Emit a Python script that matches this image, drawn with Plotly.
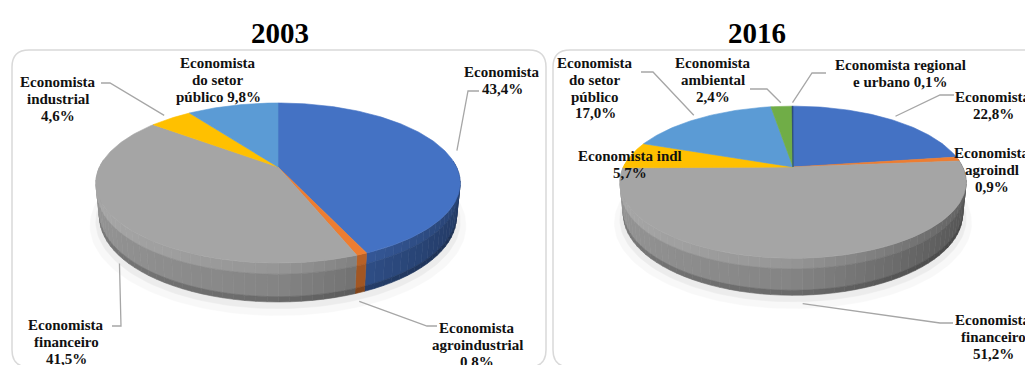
import numpy as np
import plotly.graph_objects as go

# ---------------- data ----------------
years = ["2003", "2016"]

cats_2003 = ["Economista", "Economista agroindustrial", "Economista financeiro",
             "Economista industrial", "Economista do setor público"]
vals_2003 = [43.4, 0.8, 41.5, 4.6, 9.8]

cats_2016 = ["Economista", "Economista agroindl", "Economista financeiro",
             "Economista indl", "Economista do setor público",
             "Economista ambiental", "Economista regional e urbano"]
vals_2016 = [22.8, 0.9, 51.2, 5.7, 17.0, 2.4, 0.1]

# label lines per slice; "{v}" is replaced by the slice value
lines_2003 = [["Economista", "{v}"],
              ["Economista", "agroindustrial", "{v}"],
              ["Economista", "financeiro", "{v}"],
              ["Economista", "industrial", "{v}"],
              ["Economista", "do setor", "público {v}"]]
lines_2016 = [["Economista", "{v}"],
              ["Economista", "agroindl", "{v}"],
              ["Economista", "financeiro", "{v}"],
              ["Economista indl", "{v}"],
              ["Economista", "do setor", "público", "{v}"],
              ["Economista", "ambiental", "{v}"],
              ["Economista regional", "e urbano {v}"]]

# ---------------- style / layout ----------------
W, H = 1025, 365
SLICE_COLORS = ["#4472C4", "#ED7D31", "#A5A5A5", "#FFC000", "#5B9BD5", "#70AD47", "#264478"]
FONT = "Liberation Serif, Times New Roman, serif"
LABEL_SIZE = 15
LINE_GAP = 16.8
LEADER_COLOR = "#a6a6a6"

# perspective camera for the 3-D pies
TILT = np.radians(25.5)
DIST = 4.51
THICK = 0.21

PIES = [
    dict(year=years[0], cats=cats_2003, vals=vals_2003, lines=lines_2003,
         cx=278, cy=167, scale=805, title_x=280,
         labels={0: (502, 72), 1: (477, 328), 2: (66, 325), 3: (58, 82), 4: (218, 63)},
         leaders={0: [(468, 91), (479, 91)], 1: [(427, 326), (437, 326)],
                  2: [(121, 326), (112, 326)], 3: [(110, 83), (101, 83)]}),
    dict(year=years[1], cats=cats_2016, vals=vals_2016, lines=lines_2016,
         cx=793, cy=167, scale=765, title_x=757,
         labels={0: (993, 97), 1: (992, 153), 2: (993, 320), 3: (630, 156),
                 4: (595, 63), 5: (713, 63), 6: (900, 65)},
         leaders={0: [(940, 95), (954, 95)], 2: [(940, 323), (953, 323)],
                  4: [(653, 72), (641, 72)], 5: [(767, 89), (750, 89)],
                  6: [(812, 73), (826, 73)]}),
]
PANELS = [(12, 50, 546, 367), (553, 50, 1040, 367)]


def project(X, Y, Z, pie):
    s, c = np.sin(TILT), np.cos(TILT)
    yc = Y * s + Z * c
    zc = Y * c - Z * s + DIST
    return pie["cx"] + pie["scale"] * X / zc, pie["cy"] - pie["scale"] * yc / zc


def rim(theta_deg, radius, z, pie):
    th = np.radians(theta_deg)
    return project(radius * np.sin(th), radius * np.cos(th), z * np.ones_like(th), pie)


def shade(hex_color, f):
    h = hex_color.lstrip("#")
    rgb = [int(h[i:i + 2], 16) for i in (0, 2, 4)]
    rgb = [int(max(0, min(255, round(v * f)))) for v in rgb]
    return "rgb({},{},{})".format(*rgb)


def side_factor(theta_deg):
    s = np.sin(np.radians(theta_deg))
    return 0.80 - 0.10 * s if s < 0 else 0.80 - 0.30 * s


def fmt(v):
    return f"{v:.1f}".replace(".", ",") + "%"


def poly(xs, ys, color, opacity=1.0):
    return go.Scatter(x=list(xs) + [xs[0]], y=list(ys) + [ys[0]], mode="lines",
                      fill="toself", fillcolor=color, opacity=opacity,
                      line=dict(color=color, width=0.6), hoverinfo="skip",
                      showlegend=False)


fig = go.Figure()

for pie in PIES:
    vals = np.array(pie["vals"], dtype=float)
    edges = 360.0 * np.concatenate([[0.0], np.cumsum(vals)]) / vals.sum()

    # soft shadow under the pie
    ring = np.linspace(0, 360, 181)
    for r, dy, a in [(1.05, 7, 0.025), (1.02, 4, 0.045)]:
        sx, sy = rim(ring, r, -THICK, pie)
        fig.add_trace(poly(sx, sy + dy, "rgb(0,0,0)", a))

    # side walls, painted back to front
    segs = []
    for i, (a0, a1) in enumerate(zip(edges[:-1], edges[1:])):
        n = max(1, int(np.ceil((a1 - a0) / 3.0)))
        cuts = np.linspace(a0, a1, n + 1)
        for t0, t1 in zip(cuts[:-1], cuts[1:]):
            mid = 0.5 * (t0 + t1)
            if np.cos(np.radians(mid)) < 0.1:
                segs.append((np.cos(np.radians(mid)), i, t0, t1, mid))
    segs.sort(key=lambda s: -s[0])
    bands = [(0.0, 0.28, 1.13), (0.28, 0.86, 1.0), (0.86, 1.0, 0.8)]
    for _, i, t0, t1, mid in segs:
        arc = np.linspace(t0, t1, 4)
        f = side_factor(mid)
        for z0, z1, bf in bands:
            xa, ya = rim(arc, 1.0, -THICK * z0, pie)
            xb, yb = rim(arc[::-1], 1.0, -THICK * z1, pie)
            fig.add_trace(poly(np.r_[xa, xb], np.r_[ya, yb],
                               shade(SLICE_COLORS[i], f * bf)))

    # top faces
    for i, (a0, a1) in enumerate(zip(edges[:-1], edges[1:])):
        n = max(2, int(np.ceil((a1 - a0) / 1.0)) + 1)
        arc = np.linspace(a0, a1, n)
        xa, ya = rim(arc, 1.0, 0.0, pie)
        fig.add_trace(poly(np.r_[pie["cx"], xa], np.r_[pie["cy"], ya],
                           SLICE_COLORS[i]))

    # leader lines from each slice to its label
    for i, tail in pie["leaders"].items():
        mid = 0.5 * (edges[i] + edges[i + 1])
        if np.cos(np.radians(mid)) < -0.1:
            ax, ay = rim(np.array([mid]), 1.0, -THICK - 0.05, pie)
        else:
            ax, ay = rim(np.array([mid]), 1.07, 0.0, pie)
        xs = [float(ax[0])] + [p[0] for p in tail]
        ys = [float(ay[0])] + [p[1] for p in tail]
        fig.add_trace(go.Scatter(x=xs, y=ys, mode="lines",
                                 line=dict(color=LEADER_COLOR, width=1.3),
                                 hoverinfo="skip", showlegend=False))

    # data labels
    for i, (lx, ly) in pie["labels"].items():
        for k, line in enumerate(pie["lines"][i]):
            fig.add_annotation(x=lx, y=ly + k * LINE_GAP,
                               text="<b>" + line.replace("{v}", fmt(pie["vals"][i])) + "</b>",
                               showarrow=False, xanchor="center", yanchor="middle",
                               font=dict(family=FONT, size=LABEL_SIZE, color="#111111"))

    # year title
    fig.add_annotation(x=pie["title_x"], y=33, text="<b>" + pie["year"] + "</b>",
                       showarrow=False, xanchor="center", yanchor="middle",
                       font=dict(family=FONT, size=29, color="#000000"))


def rounded_rect(x0, y0, x1, y1, r=17):
    return (f"M {x0 + r},{y0} L {x1 - r},{y0} Q {x1},{y0} {x1},{y0 + r} "
            f"L {x1},{y1 - r} Q {x1},{y1} {x1 - r},{y1} L {x0 + r},{y1} "
            f"Q {x0},{y1} {x0},{y1 - r} L {x0},{y0 + r} Q {x0},{y0} {x0 + r},{y0} Z")


shapes = [dict(type="path", path=rounded_rect(*p), xref="x", yref="y", layer="below",
               fillcolor="white", line=dict(color="#d9d9d9", width=1.5)) for p in PANELS]

fig.update_layout(
    width=W, height=H, margin=dict(l=0, r=0, t=0, b=0),
    paper_bgcolor="white", plot_bgcolor="white",
    xaxis=dict(range=[0, W], visible=False, fixedrange=True),
    yaxis=dict(range=[H, 0], visible=False, fixedrange=True),
    shapes=shapes, showlegend=False,
)

fig.write_html("out.html", config={"displayModeBar": False})
